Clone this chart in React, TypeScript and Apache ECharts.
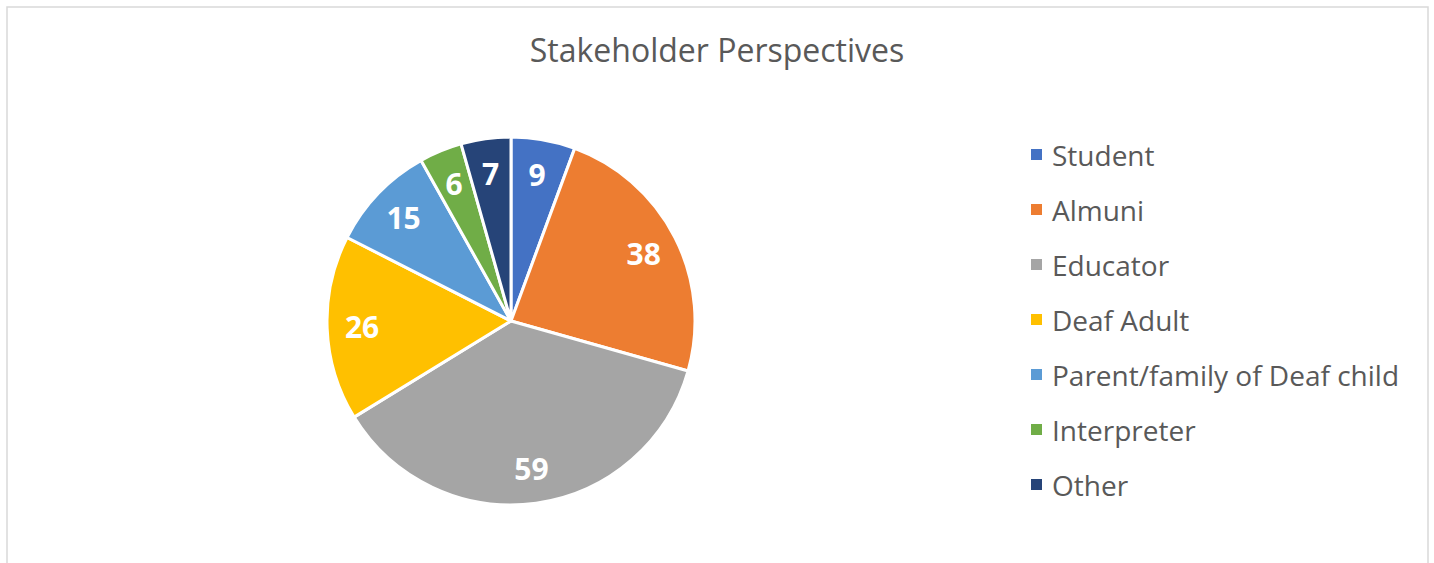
import React, { useEffect, useRef } from "react";
import * as echarts from "echarts";

const categories = ["Student", "Almuni", "Educator", "Deaf Adult", "Parent/family of Deaf child", "Interpreter", "Other"];
const values = [9, 38, 59, 26, 15, 6, 7];
const colors = ["#4472C4", "#ED7D31", "#A5A5A5", "#FFC000", "#5B9BD5", "#70AD47", "#264478"];
const title = "Stakeholder Perspectives";

export default function App() {
  const ref = useRef<HTMLDivElement>(null);
  useEffect(() => {
    const chart = echarts.init(ref.current!, null, { renderer: "svg" });
    const data = categories.map((name, i) => ({ name, value: values[i], itemStyle: { color: colors[i] } }));
    chart.setOption({
      animation: false,
      backgroundColor: "#ffffff",
      title: {
        text: title,
        left: 712,
        textAlign: "center",
        top: 28,
        textStyle: { fontFamily: "Open Sans", fontSize: 32, fontWeight: "normal", color: "#595959" },
      },
      legend: {
        orient: "vertical",
        left: 1024,
        top: 133,
        itemWidth: 13,
        itemHeight: 13,
        itemGap: 22,
        icon: "rect",
        data: categories,
        textStyle: { fontFamily: "Open Sans", fontSize: 28, color: "#595959", padding: [0, 0, 0, 4], lineHeight: 33 },
      },
      graphic: [
        {
          type: "rect",
          shape: { x: 7, y: 7, width: 1421, height: 620 },
          style: { fill: "none", stroke: "#d9d9d9", lineWidth: 1.5 },
          silent: true,
        },
      ],
      series: [
        {
          type: "pie",
          center: [511, 321],
          radius: [0, 184],
          startAngle: 90,
          clockwise: true,
          data,
          itemStyle: { borderColor: "#ffffff", borderWidth: 3 },
          label: { show: false },
          labelLine: { show: false },
        },
        {
          type: "pie",
          center: [511, 321],
          radius: [108, 184],
          startAngle: 90,
          clockwise: true,
          silent: true,
          legendHoverLink: false,
          data: categories.map((name, i) => ({ name: name + " ", value: values[i] })),
          itemStyle: { color: "rgba(0,0,0,0)", borderWidth: 0 },
          label: {
            show: true,
            position: "inside",
            formatter: "{c}",
            color: "#ffffff",
            fontFamily: "Open Sans",
            fontWeight: "bold",
            fontSize: 30,
          },
          labelLine: { show: false },
        },
      ],
    });
    return () => chart.dispose();
  }, []);
  return <div ref={ref} style={{ position: "absolute", left: 0, top: 0, width: 1434, height: 563 }} />;
}
